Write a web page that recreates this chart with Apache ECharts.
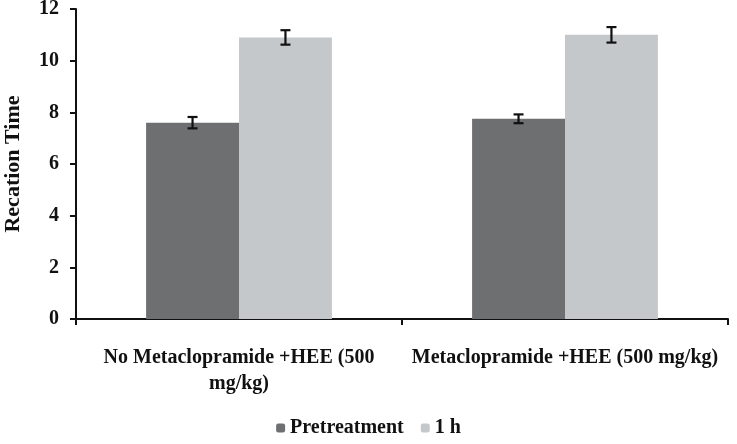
<!DOCTYPE html>
<html>
<head>
<meta charset="utf-8">
<script src="https://cdn.jsdelivr.net/npm/echarts@6/dist/echarts.min.js"></script>
<style>
  html, body { margin: 0; padding: 0; background: #fff; }
  #chart { width: 737px; height: 444px; }
</style>
</head>
<body>
<div id="chart"></div>
<script>
// data
const categories = ['No Metaclopramide +HEE (500\nmg/kg)', 'Metaclopramide +HEE (500 mg/kg)']
const pretreatment = [7.6, 7.75]
const pretreatmentErr = [0.22, 0.17]
const oneHour = [10.9, 11.0]
const oneHourErr = [0.28, 0.3]
const yTicks = [0, 2, 4, 6, 8, 10, 12]

const FONT = '"Liberation Serif", "DejaVu Serif", serif'
const BAR_FRAC = 0.285

const chart = echarts.init(document.getElementById('chart'))

// error bar custom series; side -1 = left bar, +1 = right bar
function errorSeries(name, values, errs, side) {
  return {
    type: 'custom',
    name: name + ' err',
    z: 10,
    silent: true,
    data: values.map((v, i) => [i, v - errs[i], v + errs[i]]),
    renderItem: (params, api) => {
      const band = api.size([1, 0])[0]
      const bw = band * BAR_FRAC
      const c = api.coord([api.value(0), 0])[0] + side * bw / 2
      const lo = api.coord([api.value(0), api.value(1)])[1]
      const hi = api.coord([api.value(0), api.value(2)])[1]
      const cap = 5
      const st = { stroke: '#111', lineWidth: 2.2 }
      return {
        type: 'group',
        children: [
          { type: 'line', shape: { x1: c, y1: lo, x2: c, y2: hi }, style: st },
          { type: 'line', shape: { x1: c - cap, y1: lo, x2: c + cap, y2: lo }, style: st },
          { type: 'line', shape: { x1: c - cap, y1: hi, x2: c + cap, y2: hi }, style: st }
        ]
      }
    }
  }
}

const option = {
  animation: false,
  textStyle: { fontFamily: FONT },
  grid: { left: 76, right: 9, top: 9, bottom: 125, outerBoundsMode: 'none', containLabel: false },
  legend: {
    data: ['Pretreatment', '1 h'],
    bottom: 1,
    left: 'center',
    itemWidth: 9,
    itemHeight: 9,
    itemGap: 17,
    textStyle: { fontFamily: FONT, fontSize: 20, fontWeight: 'bold', color: '#111' }
  },
  xAxis: {
    type: 'category',
    data: categories,
    axisLine: { lineStyle: { color: '#111', width: 2 } },
    axisTick: { show: true, length: 6, lineStyle: { color: '#111', width: 2 } },
    axisLabel: {
      color: '#111', fontFamily: FONT, fontSize: 20, fontWeight: 'bold',
      margin: 26, lineHeight: 26, interval: 0
    }
  },
  yAxis: {
    type: 'value',
    min: yTicks[0],
    max: yTicks[yTicks.length - 1],
    interval: 2,
    name: 'Recation Time',
    nameLocation: 'middle',
    nameGap: 52,
    nameTextStyle: { fontFamily: FONT, fontSize: 22, fontWeight: 'bold', color: '#111' },
    axisLine: { show: true, lineStyle: { color: '#111', width: 2 } },
    axisTick: { show: true, length: 6, lineStyle: { color: '#111', width: 2 } },
    splitLine: { show: false },
    axisLabel: { color: '#111', fontFamily: FONT, fontSize: 20, fontWeight: 'bold', margin: 17 }
  },
  series: [
    {
      name: 'Pretreatment', type: 'bar', data: pretreatment,
      barWidth: (BAR_FRAC * 100) + '%', barGap: '0%',
      itemStyle: { color: '#6d6f71' }
    },
    {
      name: '1 h', type: 'bar', data: oneHour,
      barWidth: (BAR_FRAC * 100) + '%', barGap: '0%',
      itemStyle: { color: '#c5c8ca' }
    },
    errorSeries('Pretreatment', pretreatment, pretreatmentErr, -1),
    errorSeries('1 h', oneHour, oneHourErr, 1)
  ]
}

chart.setOption(option)
</script>
</body>
</html>
